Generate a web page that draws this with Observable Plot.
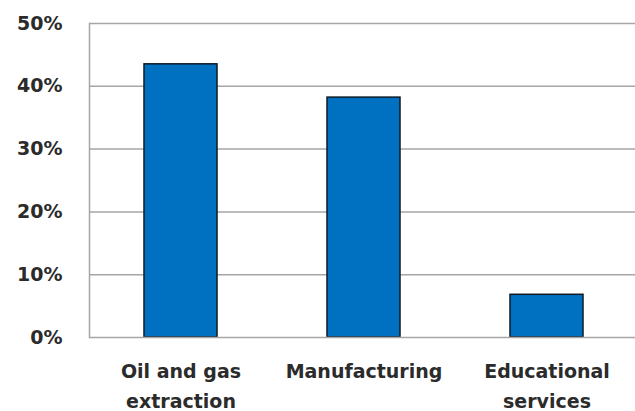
<!DOCTYPE html>
<html>
<head>
<meta charset="utf-8">
<script src="https://cdn.jsdelivr.net/npm/d3@7"></script>
<script src="https://cdn.jsdelivr.net/npm/@observablehq/plot@0.6"></script>
<style>
  html, body { margin: 0; padding: 0; background: #fff; overflow: hidden; }
  #chart svg { display: block; }
</style>
</head>
<body>
<div id="chart"></div>
<script>
const categories = ["Oil and gas\nextraction", "Manufacturing", "Educational\nservices"];
const values = [43.5, 38.2, 6.8];
const yTicks = [0, 10, 20, 30, 40, 50];

const data = categories.map((c, i) => ({category: c, value: values[i]}));

const plot = Plot.plot({
  width: 635,
  height: 411,
  marginLeft: 89,
  marginRight: 0,
  marginTop: 23,
  marginBottom: 74,
  style: {fontFamily: "'DejaVu Sans', sans-serif", background: "#fff"},
  x: {domain: categories, range: [89, 638], paddingInner: 0.6, paddingOuter: 0.3, label: null},
  y: {domain: [0, 50], label: null},
  marks: [
    Plot.ruleY(yTicks.filter(d => d > 0), {stroke: "#a6a6a6", strokeWidth: 1.5, strokeOpacity: 1}),
    Plot.frame({anchor: "left", stroke: "#a6a6a6", strokeWidth: 1.5}),
    Plot.barY(data, {x: "category", y: "value", fill: "#0070c0", stroke: "#0d1a26", strokeWidth: 1.5}),
    Plot.ruleY([0], {stroke: "#a6a6a6", strokeWidth: 1.5}),
    Plot.axisY({ticks: yTicks, tickSize: 0, tickPadding: 27, tickFormat: d => d + "%", fontSize: 19, fontWeight: "bold", fill: "#2b2b2b", label: null}),
    Plot.axisX({tickSize: 0, tickPadding: 20, fontSize: 19, fontWeight: "bold", fill: "#2b2b2b", lineHeight: 1.55, label: null})
  ]
});
document.getElementById("chart").appendChild(plot);
</script>
</body>
</html>
